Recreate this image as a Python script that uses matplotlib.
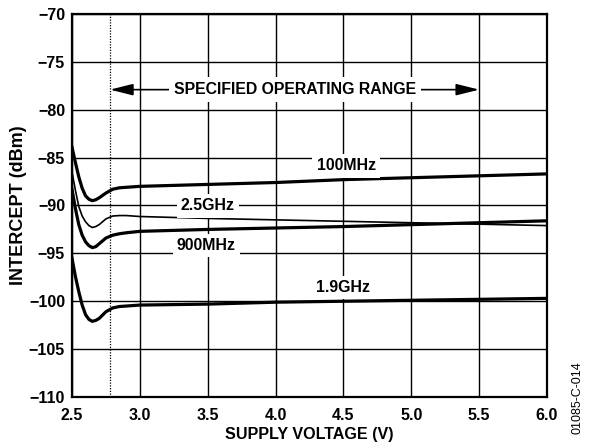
import matplotlib
matplotlib.use("Agg")
import matplotlib.pyplot as plt

plt.rcParams['font.family'] = ['Liberation Sans', 'DejaVu Sans']

# Supply voltage samples (V)
volts = [2.5, 2.525, 2.55, 2.575, 2.6, 2.625, 2.65, 2.675, 2.7, 2.75, 2.8, 2.85, 2.9, 3.0,
         3.5, 4.0, 4.5, 5.0, 5.5, 6.0]

# Intercept (dBm) per frequency
int_100mhz = [-83.9, -85.5, -87.0, -88.2, -89.0, -89.35, -89.5, -89.4, -89.2, -88.7, -88.3, -88.15, -88.1, -88.0,
              -87.8, -87.6, -87.3, -87.1, -86.9, -86.7]
int_2p5ghz = [-86.5, -88.4, -90.1, -91.1, -91.7, -92.1, -92.3, -92.2, -92.0, -91.4, -91.1, -91.05, -91.05, -91.15,
              -91.35, -91.5, -91.65, -91.8, -91.95, -92.1]
int_900mhz = [-88.3, -90.3, -92.0, -93.1, -93.8, -94.2, -94.4, -94.3, -94.0, -93.4, -93.1, -92.95, -92.85, -92.7,
              -92.5, -92.35, -92.2, -92.0, -91.8, -91.6]
int_1p9ghz = [-95.5, -97.4, -99.0, -100.4, -101.4, -101.9, -102.1, -102.0, -101.8, -101.1, -100.7, -100.55, -100.5, -100.4,
              -100.3, -100.1, -100.0, -99.9, -99.8, -99.7]

x_ticks = [2.5, 3.0, 3.5, 4.0, 4.5, 5.0, 5.5, 6.0]
y_ticks = [-110, -105, -100, -95, -90, -85, -80, -75, -70]

range_start = 2.78
range_end = 5.5
range_level = -77.9

fig = plt.figure(figsize=(5.92, 4.46), dpi=100)
ax = fig.add_axes([0.1216, 0.1099, 0.8024, 0.8587])

ax.set_xlim(2.5, 6.0)
ax.set_ylim(-110, -70)
ax.set_xticks(x_ticks)
ax.set_yticks(y_ticks)
ax.set_xticklabels([f"{v:.1f}" for v in x_ticks])
ax.set_yticklabels([f"\u2212{abs(v)}" for v in y_ticks])
ax.tick_params(axis='both', length=0, labelsize=11.5)
ax.tick_params(axis='x', pad=8)
ax.tick_params(axis='y', pad=5)
for lbl in ax.get_xticklabels() + ax.get_yticklabels():
    lbl.set_fontweight('bold')

ax.grid(True, color='black', lw=1.0, zorder=1)
ax.set_axisbelow(True)
for s in ax.spines.values():
    s.set_linewidth(1.6)
    s.set_zorder(6)

ax.plot(volts, int_100mhz, color='black', lw=2.3, zorder=3)
ax.plot(volts, int_2p5ghz, color='black', lw=1.2, zorder=3)
ax.plot(volts, int_900mhz, color='black', lw=2.3, zorder=3)
ax.plot(volts, int_1p9ghz, color='black', lw=2.3, zorder=3)

ax.axvline(range_start, color='black', lw=0.9, ls=(0, (1, 1.2)), zorder=2)

mid = (range_start + range_end) / 2
arrow_kw = dict(arrowstyle='-|>,head_length=1.0,head_width=0.25', color='black', lw=1.2,
                mutation_scale=14, shrinkA=0, shrinkB=0)
ax.annotate('', xy=(range_start, range_level), xytext=(mid, range_level), arrowprops=arrow_kw, zorder=4)
ax.annotate('', xy=(range_end, range_level), xytext=(mid, range_level), arrowprops=arrow_kw, zorder=4)

bbox = dict(facecolor='white', edgecolor='none', pad=3.0)
ax.text(mid, range_level, 'SPECIFIED OPERATING RANGE', ha='center', va='center',
        fontsize=11.4, fontweight='bold', bbox=dict(facecolor='white', edgecolor='none', pad=3.5), zorder=5)
ax.text(4.52, -85.87, '100MHz', ha='center', va='center', fontsize=11.4, fontweight='bold', bbox=bbox, zorder=5)
ax.text(3.50, -90.05, '2.5GHz', ha='center', va='center', fontsize=11.4, fontweight='bold', bbox=bbox, zorder=5)
ax.text(3.49, -94.2, '900MHz', ha='center', va='center', fontsize=11.4, fontweight='bold', bbox=bbox, zorder=5)
ax.text(4.50, -98.6, '1.9GHz', ha='center', va='center', fontsize=11.4, fontweight='bold', bbox=bbox, zorder=5)

ax.set_xlabel('SUPPLY VOLTAGE (V)', fontsize=11.6, fontweight='bold', labelpad=3)
ax.set_ylabel('INTERCEPT (dBm)', fontsize=13, fontweight='bold', labelpad=1)

fig.text(0.976, 0.108, '01085-C-014', rotation=90, fontsize=9, ha='center', va='center')

fig.savefig('out.png', dpi=100)
